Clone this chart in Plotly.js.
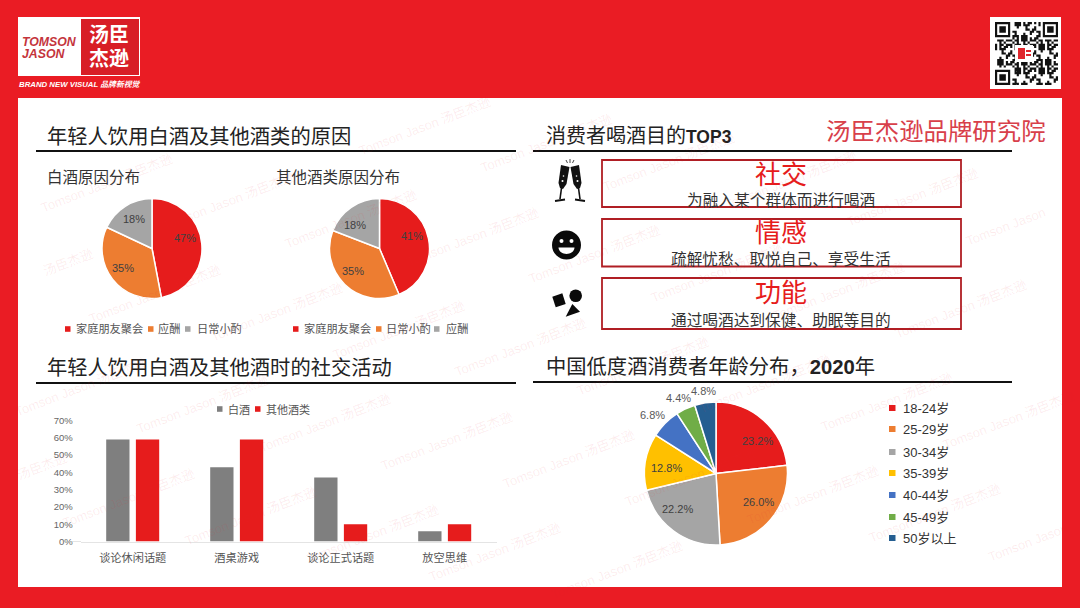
<!DOCTYPE html>
<html><head><meta charset="utf-8">
<script src="https://cdn.plot.ly/plotly-3.0.1.min.js"></script>
<style>html,body{margin:0;padding:0;background:#EA1C24}#c{width:1080px;height:608px}</style>
</head><body><div id="c"></div>
<script>
// ---- data ----
const baijiuLabels = ['家庭朋友聚会','应酬','日常小酌'];
const baijiuValues = [47,35,18];
const otherLabels = ['家庭朋友聚会','日常小酌','应酬'];
const otherValues = [41,35,18];
const pieColors = ['#E61C1C','#ED7D31','#A5A5A5'];
const activityCats = ['谈论休闲话题','酒桌游戏','谈论正式话题','放空思维'];
const activityBaijiu = [59,43,37,6];
const activityOther = [59,59,10,10];
const ageLabels = ['18-24岁','25-29岁','30-34岁','35-39岁','40-44岁','45-49岁','50岁以上'];
const ageValues = [23.2,26.0,22.2,12.8,6.8,4.4,4.8];
const ageColors = ['#E61C1C','#ED7D31','#A5A5A5','#FFC000','#4472C4','#70AD47','#255E91'];
const purposes = [
  ['社交','为融入某个群体而进行喝酒'],
  ['情感','疏解忧愁、取悦自己、享受生活'],
  ['功能','通过喝酒达到保健、助眠等目的']
];
// label anchor points of the slice labels (page pixels)
const baijiuLabelAt = [[185,238],[123,268],[134,219]];
const otherLabelAt = [[412,236],[353,271],[355,225]];
const ageLabelAt = [[757,441],[759,502],[677,509],[666,468],[652,415],[678.5,398],[703,391]];
// ---- helpers ----
const W=1080,H=608, FONT='"Liberation Sans","Noto Sans CJK SC",sans-serif';
const X=x=>x/W, Y=y=>1-y/H;
const dom=(a,b,L)=>[a/L,b/L];
const RED='#EA1C24';
const annotations=[], shapes=[];
function ann(text,x,y,size,color,anchor,extra){
  const a=anchor||'left';
  annotations.push(Object.assign({text,x:X(a==='left'?x-2:x),y:Y(y),xref:'paper',yref:'paper',showarrow:false,
    xanchor:a,yanchor:'middle',borderpad:0,font:{family:FONT,size,color}},extra||{}));
}
function rect(x0,y0,x1,y1,fill,line,lw,layer){
  shapes.push({type:'rect',xref:'paper',yref:'paper',x0:X(x0),x1:X(x1),y0:Y(y0),y1:Y(y1),
    fillcolor:fill||'rgba(0,0,0,0)',line:{color:line||'rgba(0,0,0,0)',width:lw||0},layer:layer||'below'});
}
function circ(cx,cy,r,fill){
  shapes.push({type:'circle',xref:'paper',yref:'paper',x0:X(cx-r),x1:X(cx+r),y0:Y(cy-r),y1:Y(cy+r),
    fillcolor:fill,line:{width:0},layer:'below'});
}
function poly(pts,fill,lw,line){
  const d=pts.map((p,i)=>(i?'L':'M')+X(p[0]).toFixed(5)+','+Y(p[1]).toFixed(5)).join('')+(lw?'':'Z');
  shapes.push({type:'path',xref:'paper',yref:'paper',path:d,fillcolor:fill||'rgba(0,0,0,0)',
    line:{width:lw||0,color:line||'rgba(0,0,0,0)'},layer:'below'});
}
function hline(x0,x1,y){rect(x0,y-1,x1,y+1,'#111');}
function legendItem(x,y,color,text,tx,size,tcolor){
  rect(x,y-2.8,x+5.5,y+2.8,color);
  ann(text,tx,y,size,tcolor);
}
// panel
rect(18,98,1062,587,'#FFFFFF');
// logo
rect(18,17,140,76,'#FFFFFF');
rect(81,19,139,75,'#D81E26');
ann('<b><i>TOMSON</i></b>',23,42,12.3,'#C4343C');
ann('<b><i>JASON</i></b>',23,54,12.3,'#C4343C');
ann('<b>汤臣</b>',109,35,20,'#FFFFFF','center');
ann('<b>杰逊</b>',109,59,20,'#FFFFFF','center');
ann('<b><i>BRAND NEW VISUAL 品牌新视觉</i></b>',20,84,7.8,'#FFFFFF');
// QR (decorative pattern)
rect(990,17,1061,89,'#FFFFFF');
(function(){
  const n=29,s=63/n,x0=995,y0=22;let d='';
  const mod=(i,j)=>{
    const f=(a,b)=>{const u=i-a,v=j-b;if(u<0||v<0||u>6||v>6)return null;
      return (u==0||u==6||v==0||v==6||(u>=2&&u<=4&&v>=2&&v<=4));};
    let r=f(0,0);if(r===null)r=f(22,0);if(r===null)r=f(0,22);if(r!==null)return r;
    if((i<8&&j<8)||(i>20&&j<8)||(i<8&&j>20))return false;
    return ((i*i*7+j*j*13+i*j*5+i*3+j*11)%11)<5;
  };
  for(let i=0;i<n;i++)for(let j=0;j<n;j++)if(mod(i,j)){
    const a=X(x0+i*s),b=X(x0+(i+1)*s),c=Y(y0+j*s),e=Y(y0+(j+1)*s);
    d+=`M${a.toFixed(5)},${c.toFixed(5)}L${b.toFixed(5)},${c.toFixed(5)}L${b.toFixed(5)},${e.toFixed(5)}L${a.toFixed(5)},${e.toFixed(5)}Z`;
  }
  shapes.push({type:'path',xref:'paper',yref:'paper',path:d,fillcolor:'#111',line:{width:0},layer:'below'});
  rect(1015,45,1033,62,'#FFFFFF');
  rect(1018,48,1025,59,'#E0262C');
  rect(1026,50,1031,52,'#E0262C');rect(1026,54,1031,56,'#E0262C');
})();
// section titles + rules
const TC='#222222';
ann('年轻人饮用白酒及其他酒类的原因',48,137,20.3,TC);hline(36,516,151);
ann('消费者喝酒目的<span style="font-size:17.5px"><b>TOP3</b></span>',547,136,20,TC);hline(533,1012,151);
ann('年轻人饮用白酒及其他酒时的社交活动',48,368,20.3,TC);hline(36,516,383);
ann('中国低度酒消费者年龄分布，<b>2020</b>年',547,367,20.3,TC);hline(533,1012,382);
ann('汤臣杰逊品牌研究院',827,132,24.4,'#D8404A');
// pie subtitles + legends
ann('白酒原因分布',48,177,15.5,'#333');
ann('其他酒类原因分布',277,177,15.5,'#333');
const LC='#555';
[[65,77],[148,158.5],[185,197.5]].forEach((p,i)=>legendItem(p[0],329,pieColors[i],baijiuLabels[i],p[1],11.2,LC));
[[293,304.5],[376,386.5],[434,446.5]].forEach((p,i)=>legendItem(p[0],329,pieColors[i],otherLabels[i],p[1],11.2,LC));
// bar legend
legendItem(217,409,'#7F7F7F','白酒',229,11,LC);
legendItem(255,409,'#E61C1C','其他酒类',267,11,LC);
// age legend
const ageLegendY=[408,429,452,473,495,517,538];
ageLabels.forEach((t,i)=>{rect(889,ageLegendY[i]-3,895.5,ageLegendY[i]+3,ageColors[i]);ann(t,904,ageLegendY[i],13,'#333');});
// purpose boxes
const boxY=[[160,207],[219,266.5],[278,329]],titleY=[175,233,293],subY=[200,259,320];
purposes.forEach((p,i)=>{
  rect(602,boxY[i][0],961,boxY[i][1],null,'#B01E24',1.8,'below');
  ann(p[0],781,titleY[i],26,'#E61C1C','center');
  ann(p[1],781,subY[i],15.7,'#333','center');
});
// icons
poly([[561,165],[569.5,167],[566.5,184],[563,189],[560,188],[558.5,183]],'#111');
poly([[579,165],[570.5,167],[573.5,184],[577,189],[580,188],[581.5,183]],'#111');
poly([[561.5,188],[560,199]],null,1.6,'#111');
poly([[555,201],[565,199.5]],null,1.8,'#111');
poly([[578.5,188],[580,199]],null,1.6,'#111');
poly([[575,199.5],[585,201]],null,1.8,'#111');
circ(562.5,181,1,'#FFF');circ(563.5,176,.8,'#FFF');circ(577.5,181,1,'#FFF');circ(576.5,176,.8,'#FFF');
poly([[566,160],[567.5,163]],null,.8,'#111');poly([[570,159],[570,163]],null,.8,'#111');poly([[574,160],[572.5,163]],null,.8,'#111');
circ(566.5,245,14.5,'#0A0A0A');circ(561.5,241,2,'#FFF');circ(571.5,241,2,'#FFF');
shapes.push({type:'path',xref:'paper',yref:'paper',layer:'below',fillcolor:'#FFF',line:{width:0},
  path:`M${X(558.5)},${Y(247.5)}L${X(574.5)},${Y(247.5)}C${X(574)},${Y(256)} ${X(559)},${Y(256)} ${X(558.5)},${Y(247.5)}Z`});
poly([[552.3,296.7],[562.3,293.3],[565.7,304],[555.7,307.3]],'#0A0A0A');
circ(575.7,295.7,6.3,'#0A0A0A');
poly([[572.3,304],[580,311.7],[565.7,316.7]],'#0A0A0A');
// watermark lattice (decoration)
for(let i=-3;i<11;i++)for(let j=-3;j<7;j++){
  let cx=106+122*i-74*j, cy=183+18*i+93*j, t='Tomson Jason 汤臣杰逊';
  if(cy<110||cy>575)continue;
  if(cx-72<0){t='汤臣杰逊';cx+=36;cy-=14;if(cx-28<0)continue;}
  else if(cx+72>1080){t='Tomson Jason';cx-=28;cy+=11;if(cx+44>1080)continue;}
  annotations.push({text:t,x:X(cx),y:Y(cy),xref:'paper',yref:'paper',showarrow:false,
    textangle:-21,xanchor:'center',yanchor:'middle',font:{family:FONT,size:13,color:'rgba(232,40,50,0.09)'}});
}
// slice labels, text taken from the series
baijiuValues.forEach((v,i)=>ann(v+'%',baijiuLabelAt[i][0],baijiuLabelAt[i][1],11,'#404040','center'));
otherValues.forEach((v,i)=>ann(v+'%',otherLabelAt[i][0],otherLabelAt[i][1],11,'#404040','center'));
ageValues.forEach((v,i)=>ann(v.toFixed(1)+'%',ageLabelAt[i][0],ageLabelAt[i][1],11,i<4?'#404040':'#595959','center'));
rect(72,541,81,542,'#E4E4E4');
// ---- traces ----
const common={type:'pie',sort:false,direction:'clockwise',rotation:0,showlegend:false,hoverinfo:'label+percent',textinfo:'none'};
const traces=[
 Object.assign({},common,{labels:baijiuLabels,values:baijiuValues,
   marker:{colors:pieColors,line:{color:'#FFF',width:1.5}},domain:{x:dom(102,202,W),y:[Y(298.5),Y(198.5)]}}),
 Object.assign({},common,{labels:otherLabels,values:otherValues,
   marker:{colors:pieColors,line:{color:'#FFF',width:1.5}},domain:{x:dom(329.5,429.5,W),y:[Y(298.5),Y(198.5)]}}),
 Object.assign({},common,{labels:ageLabels,values:ageValues,
   marker:{colors:ageColors,line:{color:'#FFF',width:1.5}},
   domain:{x:dom(644.5,787.5,W),y:[Y(545),Y(402)]}}),
 {type:'bar',name:'白酒',x:activityCats,y:activityBaijiu,marker:{color:'#7F7F7F'},showlegend:false,xaxis:'x',yaxis:'y'},
 {type:'bar',name:'其他酒类',x:activityCats,y:activityOther,marker:{color:'#E61C1C'},showlegend:false,xaxis:'x',yaxis:'y'}
];
const layout={
  width:W,height:H,margin:{l:0,r:0,t:0,b:0,pad:0},paper_bgcolor:RED,plot_bgcolor:'rgba(0,0,0,0)',
  showlegend:false,barmode:'group',bargap:0.429,bargroupgap:0.215,font:{family:FONT},
  xaxis:{domain:dom(80.7,496.7,W),type:'category',showline:true,linecolor:'#E4E4E4',linewidth:1,ticks:'',showgrid:false,
    tickfont:{family:FONT,size:11.2,color:'#555'},ticklabelstandoff:6,fixedrange:true,automargin:false,zeroline:false},
  yaxis:{domain:[Y(541.5),Y(420.5)],range:[0,70],dtick:10,ticksuffix:'%',showgrid:false,zeroline:false,showline:false,ticks:'',
    tickfont:{family:'"Liberation Sans",sans-serif',size:9.5,color:'#666'},ticklabelstandoff:7,fixedrange:true,automargin:false},
  shapes,annotations
};
Plotly.newPlot('c',traces,layout,{displayModeBar:false,staticPlot:true});
</script></body></html>
